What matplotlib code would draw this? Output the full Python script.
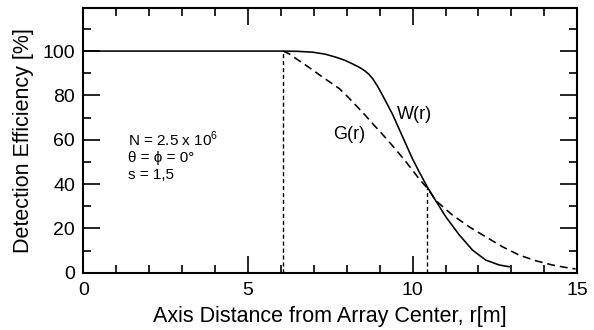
import matplotlib
matplotlib.use("Agg")
import matplotlib.pyplot as plt
from matplotlib.ticker import MultipleLocator

plt.rcParams['font.family'] = ['Liberation Sans', 'DejaVu Sans']
plt.rcParams['mathtext.fontset'] = 'custom'
plt.rcParams['mathtext.rm'] = 'Liberation Sans'

# W(r): solid curve
w_r = [0.0, 2.0, 4.0, 5.5, 6.06, 6.5, 6.97, 7.35, 7.68, 7.95, 8.18, 8.38, 8.54, 8.67,
       8.79, 8.93, 9.09, 9.39, 9.7, 10.0, 10.2, 10.45, 10.66, 11.01, 11.42, 11.82,
       12.22, 12.63, 12.93]
w_eff = [100.0, 100.0, 100.0, 100.0, 100.0, 99.9, 99.5, 98.6, 97.2, 95.8, 94.2, 92.7,
         91.2, 89.6, 87.5, 84.3, 80.0, 71.5, 61.2, 51.3, 45.5, 38.6, 33.5, 25.2, 17.0,
         10.2, 5.7, 3.5, 2.7]

# G(r): dashed curve
g_r = [6.07, 6.26, 6.5, 6.77, 7.02, 7.27, 7.52, 7.78, 8.03, 8.28, 8.54, 8.79, 9.04,
       9.29, 9.55, 9.8, 10.0, 10.2, 10.44, 10.71, 11.21, 11.72, 12.22, 12.73, 13.23,
       13.74, 14.24, 14.6, 14.95]
g_eff = [100.0, 98.7, 96.2, 93.5, 90.9, 88.2, 85.7, 83.0, 79.4, 75.5, 71.4, 67.2, 63.2,
         59.0, 54.5, 50.0, 46.2, 42.3, 38.3, 32.5, 26.0, 20.7, 16.2, 11.7, 8.0, 5.4,
         3.5, 2.5, 1.7]

# vertical guide lines (r, height)
guide_r = [6.07, 10.44]
guide_top = [100.0, 38.0]

fig = plt.figure(figsize=(5.94, 3.30), dpi=100)
ax = fig.add_axes([0.1402, 0.1736, 0.8316, 0.8012])

ax.plot(w_r, w_eff, color='black', lw=1.15)
ax.plot(g_r, g_eff, color='black', lw=1.15, ls=(0, (5, 3)))
for r, t in zip(guide_r, guide_top):
    ax.plot([r, r], [0, t], color='black', lw=1.0, ls=(0, (3, 2)))

ax.set_xlim(0, 15)
ax.set_ylim(0, 119.3)
ax.xaxis.set_major_locator(MultipleLocator(5))
ax.xaxis.set_minor_locator(MultipleLocator(1))
ax.yaxis.set_major_locator(MultipleLocator(20))
ax.yaxis.set_minor_locator(MultipleLocator(10))
ax.tick_params(which='both', direction='in', top=True, right=True, width=1.2, labelsize=14)
ax.tick_params(which='major', length=12)
ax.tick_params(which='minor', length=6)
ax.tick_params(axis='x', which='major', pad=7)
ax.tick_params(axis='y', which='major', pad=6)
for s in ax.spines.values():
    s.set_linewidth(1.5)

ax.set_xlabel('Axis Distance from Array Center, r[m]', fontsize=15.5, labelpad=5)
ax.set_ylabel('Detection Efficiency [%]', fontsize=15.5, labelpad=6)

ax.text(1.36, 57.2, r'N = 2.5 x 10$^{6}$', fontsize=11, ha='left', va='baseline')
ax.text(1.36, 50.0, 'θ = ϕ = 0°', fontsize=11, ha='left', va='baseline')
ax.text(1.36, 42.5, 's = 1,5', fontsize=11, ha='left', va='baseline')
ax.text(9.52, 71.4, 'W(r)', fontsize=13, ha='left', va='center')
ax.text(7.58, 62.4, 'G(r)', fontsize=13, ha='left', va='center')

fig.savefig('out.png', dpi=100)
